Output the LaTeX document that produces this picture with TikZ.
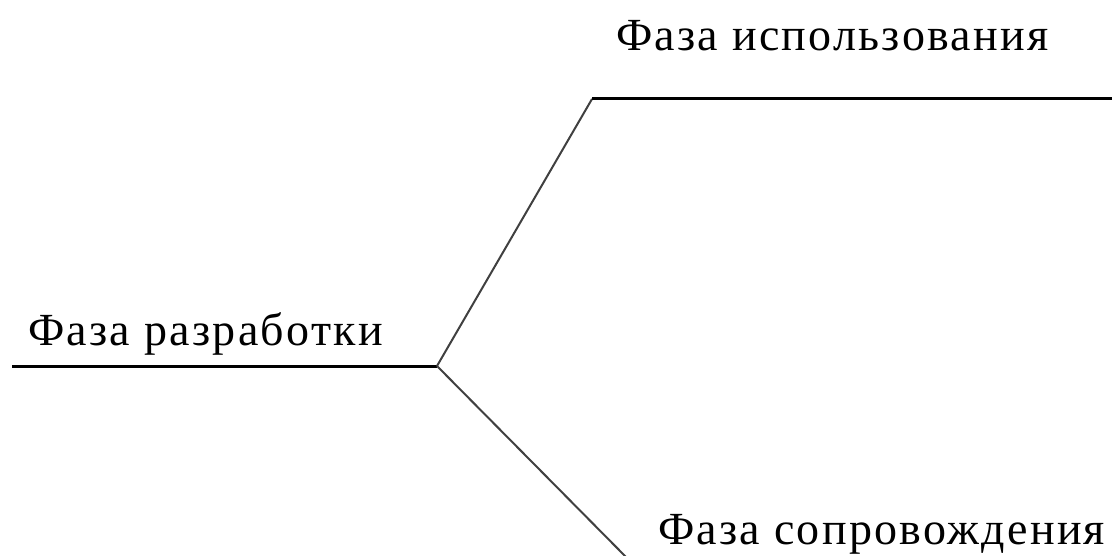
\documentclass[tikz,border=0pt]{standalone}
\usepackage{fontspec}
\setmainfont{Liberation Serif}
\newfontfamily\lblfont[LetterSpace=5]{Liberation Serif}
\begin{document}
\begin{tikzpicture}[x=1pt,y=-1pt,
  lbl/.style={font=\lblfont\fontsize{46}{50}\selectfont, inner sep=0pt, anchor=base west},
  hline/.style={line width=3pt, black},
  dline/.style={line width=2pt, black!75}]
\useasboundingbox (0,0) rectangle (1112,556);
\coordinate (L0) at (12,366);
\coordinate (J) at (437,366);
\coordinate (T0) at (592,99);
\coordinate (T1) at (1112,99);
\coordinate (B) at (627,558);
\node[lbl] (dev) at (28,345) {Фаза разработки};
\node[lbl] (use) at (616,51) {Фаза использования};
\node[lbl] (sup) at (658,544) {Фаза сопровождения};
\draw[hline] (L0) -- (J);
\draw[dline] (J) -- (T0);
\draw[hline] (T0) -- (T1);
\draw[dline] (J) -- (B);
\end{tikzpicture}
\end{document}
